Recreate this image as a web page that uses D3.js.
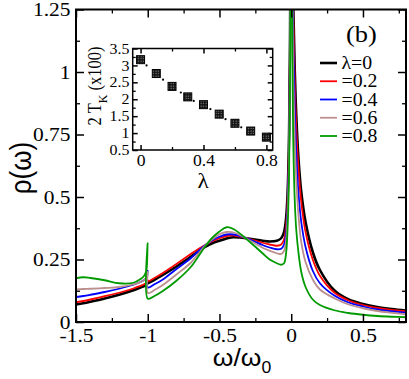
<!DOCTYPE html>
<html>
<head>
<meta charset="utf-8">
<script src="https://cdn.jsdelivr.net/npm/d3@7"></script>
<style>
  body { margin: 0; background: #fff; }
  svg { display: block; }
</style>
</head>
<body>
<div id="chart"></div>
<script>
// omega / omega_0 sample points
const omega = [-1.5, -1.45, -1.4, -1.3, -1.2, -1.1, -1.05, -1.025, -1.01, -1.004, -1.001, -0.999,
  -0.95, -0.9, -0.8, -0.7, -0.65, -0.6, -0.55, -0.5, -0.45, -0.4, -0.3, -0.2, -0.15, -0.1, -0.07, -0.05,
  -0.035, -0.025, -0.015, -0.008, 0, 0.008, 0.015, 0.025, 0.035, 0.05, 0.07, 0.1, 0.15, 0.2,
  0.3, 0.4, 0.5, 0.6, 0.7, 0.8];

const rhoL00 = [0.07, 0.075, 0.081, 0.094, 0.109, 0.127, 0.138, 0.144, 0.149, 0.153, 0.158, 0.156,
  0.17, 0.186, 0.222, 0.261, 0.281, 0.3, 0.315, 0.325, 0.334, 0.339, 0.334, 0.325, 0.322, 0.325, 0.335, 0.36,
  0.42, 0.52, 0.75, 1.15, 2.5, 1.6, 1.25, 1.0, 0.83, 0.66, 0.52, 0.4, 0.28, 0.208,
  0.127, 0.09, 0.072, 0.06, 0.052, 0.046];
const rhoL02 = [0.079, 0.084, 0.09, 0.103, 0.117, 0.134, 0.145, 0.151, 0.157, 0.162, 0.168, 0.163,
  0.177, 0.194, 0.232, 0.272, 0.291, 0.308, 0.323, 0.335, 0.344, 0.346, 0.334, 0.317, 0.31, 0.305, 0.31, 0.33,
  0.39, 0.49, 0.72, 1.12, 2.5, 1.55, 1.2, 0.95, 0.78, 0.62, 0.48, 0.36, 0.25, 0.185,
  0.118, 0.086, 0.068, 0.056, 0.048, 0.043];
const rhoL04 = [0.1, 0.104, 0.109, 0.12, 0.133, 0.149, 0.16, 0.168, 0.177, 0.188, 0.205, 0.138,
  0.152, 0.168, 0.212, 0.255, 0.282, 0.307, 0.327, 0.341, 0.35, 0.35, 0.333, 0.308, 0.298, 0.291, 0.293, 0.31,
  0.36, 0.46, 0.69, 1.1, 2.5, 1.45, 1.1, 0.85, 0.68, 0.52, 0.4, 0.3, 0.205, 0.155,
  0.106, 0.078, 0.062, 0.05, 0.043, 0.037];
const rhoL06 = [0.13, 0.132, 0.133, 0.136, 0.14, 0.15, 0.16, 0.168, 0.177, 0.188, 0.2, 0.116,
  0.129, 0.146, 0.19, 0.237, 0.271, 0.305, 0.331, 0.351, 0.36, 0.358, 0.33, 0.297, 0.285, 0.275, 0.272, 0.285,
  0.33, 0.43, 0.66, 1.08, 2.5, 1.3, 0.95, 0.72, 0.57, 0.43, 0.32, 0.24, 0.17, 0.13,
  0.095, 0.07, 0.055, 0.044, 0.037, 0.031];
const rhoL08 = [0.175, 0.179, 0.176, 0.167, 0.155, 0.157, 0.172, 0.185, 0.205, 0.245, 0.315, 0.093,
  0.105, 0.122, 0.165, 0.22, 0.26, 0.302, 0.337, 0.362, 0.379, 0.371, 0.326, 0.275, 0.25, 0.235, 0.229, 0.235,
  0.28, 0.38, 0.6, 1.0, 2.5, 1.05, 0.7, 0.48, 0.37, 0.28, 0.2, 0.14, 0.09, 0.068,
  0.047, 0.036, 0.029, 0.024, 0.021, 0.019];

const seriesNames = ["\u03bb=0", "=0.2", "=0.4", "=0.6", "=0.8"];
const seriesValues = [rhoL00, rhoL02, rhoL04, rhoL06, rhoL08];

// inset: 2 T_K (x100) versus lambda
const insetLambda = [0, 0.1, 0.2, 0.3, 0.4, 0.5, 0.6, 0.7, 0.8];
const insetTK = [3.17, 2.76, 2.38, 2.07, 1.84, 1.56, 1.29, 1.06, 0.88];
const dotLambda = [0.038, 0.143, 0.256, 0.338, 0.444, 0.54, 0.64];
const dotTK = [3.0, 2.58, 2.2, 1.95, 1.71, 1.41, 1.17];

const xTicks = [-1.5, -1, -0.5, 0, 0.5];
const xMinor = [-1.25, -0.75, -0.25, 0.25, 0.75];
const yTicks = [0, 0.25, 0.5, 0.75, 1, 1.25];
const yMinor = [0.125, 0.375, 0.625, 0.875, 1.125];
const inXTicks = [0, 0.4, 0.8];
const inXMinor = [0.2, 0.6];
const inYTicks = [0.5, 1, 1.5, 2, 2.5, 3, 3.5];
const inYMinor = [0.75, 1.25, 1.75, 2.25, 2.75, 3.25];

const colors = ["#000000", "#ff0000", "#0000ff", "#bc8f8f", "#009a00"];
const widths = [2.6, 1.8, 1.8, 1.8, 1.8];
const SERIF = "'Liberation Serif', 'Times New Roman', serif";
const SANS = "'Liberation Sans', Arial, sans-serif";
const SX = 1.1; // glyphs in the source are a bit wide

const width = 409, height = 379;
const svg = d3.select("#chart").append("svg")
  .attr("width", width).attr("height", height);

const x = d3.scaleLinear().domain([-1.5, 0.8]).range([76, 406]);
const y = d3.scaleLinear().domain([0, 1.25]).range([322, 9.5]);

const ticks = (gen, tr, major, minor, bigLen, smallLen, fmt, font) => {
  svg.append("g").attr("transform", tr)
    .call(gen.tickValues(minor).tickSize(-smallLen).tickFormat(""))
    .call(g => g.select(".domain").remove())
    .selectAll("line").attr("stroke-width", 1.3);
  const g = svg.append("g").attr("transform", tr)
    .call(gen.tickValues(major).tickSize(-bigLen).tickPadding(5).tickFormat(fmt || ""))
    .call(g => g.select(".domain").remove());
  g.selectAll("line").attr("stroke-width", 1.5);
  g.selectAll("text").attr("font-family", SERIF).attr("font-size", font)
    .attr("fill", "#000").attr("transform", `scale(${SX},1)`);
  return g;
};

// curves
svg.append("clipPath").attr("id", "plot-clip").append("rect")
  .attr("x", 76).attr("y", 9.5).attr("width", 330).attr("height", 312.5);

const line = d3.line()
  .x(d => x(d[0])).y(d => y(d[1]))
  .curve(d3.curveCatmullRom.alpha(0.5));

const curves = svg.append("g").attr("clip-path", "url(#plot-clip)");
seriesValues.forEach((vals, i) => {
  curves.append("path")
    .datum(omega.map((w, j) => [w, vals[j]]))
    .attr("fill", "none")
    .attr("stroke", colors[i])
    .attr("stroke-width", widths[i])
    .attr("stroke-linejoin", "round")
    .attr("d", line);
});

// main frame and ticks
ticks(d3.axisBottom(x), "translate(0,322)", xTicks, xMinor, 8, 4, d => String(d), 19.5)
  .selectAll("text").attr("y", 6);
ticks(d3.axisTop(x), "translate(0,9.5)", xTicks, xMinor, 8, 4, null, 0);
ticks(d3.axisLeft(y), "translate(76,0)", yTicks, yMinor, 8, 4, d => String(d), 19.5)
  .selectAll("text").attr("x", -5);
ticks(d3.axisRight(y), "translate(406,0)", yTicks, yMinor, 8, 4, null, 0);

svg.append("rect").attr("x", 76).attr("y", 9.5).attr("width", 330).attr("height", 312.5)
  .attr("fill", "none").attr("stroke", "#000").attr("stroke-width", 2);

// axis titles
const xt = svg.append("text").attr("transform", `translate(242,366) scale(${SX},1)`)
  .attr("text-anchor", "middle").attr("font-family", SANS).attr("font-size", 24);
xt.append("tspan").text("\u03c9/\u03c9");
xt.append("tspan").attr("dy", 7).attr("font-size", 16).text("0");

svg.append("text").attr("transform", `translate(31,168) scale(${SX},1) rotate(-90)`)
  .attr("text-anchor", "middle").attr("font-family", SANS).attr("font-size", 26)
  .text("\u03c1(\u03c9)");

// legend
svg.append("text").attr("transform", `translate(346,42) scale(${SX},1)`)
  .attr("font-family", SERIF).attr("font-size", 24).text("(b)");

const legendY = d3.scalePoint().domain(seriesNames).range([63, 136]);
seriesNames.forEach((name, i) => {
  svg.append("line")
    .attr("x1", 320).attr("x2", 337)
    .attr("y1", legendY(name)).attr("y2", legendY(name))
    .attr("stroke", colors[i]).attr("stroke-width", widths[i]);
  svg.append("text")
    .attr("transform", `translate(341.5,${legendY(name) + 6}) scale(${SX},1)`)
    .attr("font-family", SERIF).attr("font-size", 18).text(name);
});

// inset
const ix = d3.scaleLinear().domain([-0.05, 0.84]).range([132.7, 272.7]);
const iy = d3.scaleLinear().domain([0.5, 3.5]).range([150, 48.5]);

svg.append("rect").attr("x", 132.7).attr("y", 48.5).attr("width", 140).attr("height", 101.5)
  .attr("fill", "#fff");

ticks(d3.axisBottom(ix), "translate(0,150)", inXTicks, inXMinor, 5, 3,
  d => String(d), 16).selectAll("text").attr("y", 5);
ticks(d3.axisTop(ix), "translate(0,48.5)", inXTicks, inXMinor, 5, 3, null, 0);
ticks(d3.axisLeft(iy), "translate(132.7,0)", inYTicks, inYMinor, 5, 3,
  d => String(d), 14.5).selectAll("text").attr("x", -3);
ticks(d3.axisRight(iy), "translate(272.7,0)", inYTicks, inYMinor, 5, 3, null, 0);

svg.append("rect").attr("x", 132.7).attr("y", 48.5).attr("width", 140).attr("height", 101.5)
  .attr("fill", "none").attr("stroke", "#000").attr("stroke-width", 1.5);

const defs = svg.append("defs");
const pat = defs.append("pattern").attr("id", "sq").attr("patternUnits", "userSpaceOnUse")
  .attr("width", 2.5).attr("height", 2.5);
pat.append("rect").attr("width", 2.5).attr("height", 2.5).attr("fill", "#111");
pat.append("rect").attr("x", 0.6).attr("y", 0.6).attr("width", 0.9).attr("height", 0.9).attr("fill", "#ddd");

svg.append("g").selectAll("circle").data(dotLambda).join("circle")
  .attr("cx", d => ix(d)).attr("cy", (d, i) => iy(dotTK[i])).attr("r", 1.1).attr("fill", "#000");

svg.append("g").selectAll("rect").data(insetLambda).join("rect")
  .attr("x", d => ix(d) - 4).attr("y", (d, i) => iy(insetTK[i]) - 4)
  .attr("width", 8).attr("height", 8)
  .attr("fill", "url(#sq)").attr("stroke", "#000").attr("stroke-width", 1);

svg.append("text").attr("transform", `translate(203,188) scale(${SX},1)`)
  .attr("text-anchor", "middle").attr("font-family", SERIF).attr("font-size", 21)
  .text("\u03bb");

const it = svg.append("text").attr("transform", `translate(101,86) scale(${SX},1) rotate(-90)`)
  .attr("text-anchor", "middle").attr("font-family", SERIF).attr("font-size", 16.5);
it.append("tspan").text("2 T");
it.append("tspan").attr("dy", 5).attr("font-size", 12).text("K");
it.append("tspan").attr("dy", -5).text(" (x100)");
</script>
</body>
</html>
